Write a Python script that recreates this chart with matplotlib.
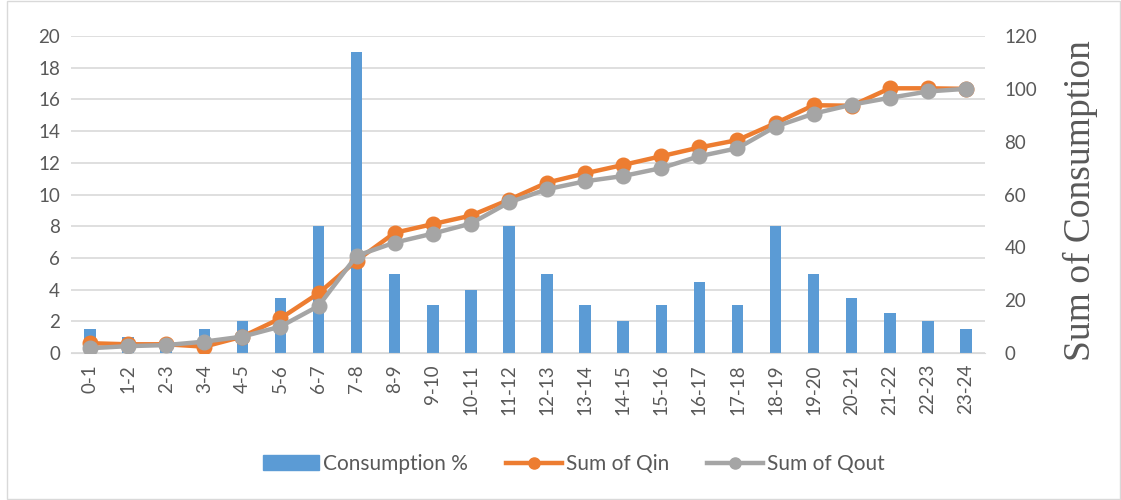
import matplotlib
matplotlib.use('Agg')
import matplotlib.pyplot as plt
from matplotlib.patches import Rectangle
from matplotlib.lines import Line2D
import numpy as np

# Hour ranges on the x axis
hours = ['0-1', '1-2', '2-3', '3-4', '4-5', '5-6', '6-7', '7-8', '8-9', '9-10',
         '10-11', '11-12', '12-13', '13-14', '14-15', '15-16', '16-17', '17-18',
         '18-19', '19-20', '20-21', '21-22', '22-23', '23-24']

# Hourly consumption in percent (left axis)
consumption = [1.5, 1.0, 0.5, 1.5, 2.0, 3.5, 8.0, 19.0, 5.0, 3.0, 4.0, 8.0,
               5.0, 3.0, 2.0, 3.0, 4.5, 3.0, 8.0, 5.0, 3.5, 2.5, 2.0, 1.5]

# Cumulative sums (right axis)
sum_qin = [3.7, 3.3, 3.3, 2.4, 6.2, 13.1, 22.6, 35.0, 45.5, 48.8, 52.0, 58.0,
           64.5, 68.0, 71.2, 74.5, 77.8, 80.6, 87.0, 93.8, 93.6, 100.2, 100.2, 100.0]
sum_qout = [1.8, 2.6, 3.0, 4.3, 6.2, 10.0, 17.8, 36.8, 41.8, 45.2, 49.0, 57.0,
            62.0, 65.0, 67.0, 70.0, 74.5, 77.5, 85.7, 90.6, 94.0, 96.6, 99.0, 100.0]

blue = '#5B9BD5'
orange = '#ED7D31'
grey = '#A5A5A5'
txt = '#595959'

plt.rcParams['font.family'] = ['Lato', 'DejaVu Sans']

fig = plt.figure(figsize=(11.21, 5.0), dpi=100)
ax = fig.add_axes([71 / 1121, 147 / 500, 914 / 1121, 317 / 500])
x = np.arange(len(hours))

# Bars for hourly consumption
ax.bar(x, consumption, width=0.3, color=blue, zorder=2)
ax.set_ylim(0, 20)
ax.set_yticks(np.arange(0, 21, 2))
ax.set_xlim(-0.5, len(hours) - 0.5)
ax.set_xticks(x)
ax.set_xticklabels(hours, rotation=90)
ax.yaxis.grid(True, color='#D9D9D9', linewidth=1.2, zorder=0)
ax.set_axisbelow(True)
for s in ['top', 'right', 'left']:
    ax.spines[s].set_visible(False)
ax.spines['bottom'].set_color('#D9D9D9')
ax.tick_params(axis='both', length=0, colors=txt, labelsize=13.5, pad=8)

# Second axis for the cumulative lines
ax2 = ax.twinx()
ax2.plot(x, sum_qin, color=orange, linewidth=3.2, marker='o', markersize=10.5, zorder=3)
ax2.plot(x, sum_qout, color=grey, linewidth=3.2, marker='o', markersize=10.5, zorder=4)
ax2.set_ylim(0, 120)
ax2.set_yticks(np.arange(0, 121, 20))
for s in ax2.spines.values():
    s.set_visible(False)
ax2.tick_params(axis='y', length=0, colors=txt, labelsize=13.5, pad=14)
ax2.set_ylabel('Sum of Consumption', family='Liberation Serif', fontsize=27,
               color=txt)
ax2.yaxis.set_label_coords(1.085, 0.48)

# Legend below the chart
handles = [Rectangle((0, 0), 1, 1, color=blue),
           Line2D([], [], color=orange, linewidth=3.2, marker='o', markersize=8),
           Line2D([], [], color=grey, linewidth=3.2, marker='o', markersize=8)]
fig.legend(handles, ['Consumption %', 'Sum of Qin', 'Sum of Qout'],
           loc='center', bbox_to_anchor=(574 / 1121, 1 - 464 / 500), ncol=3,
           frameon=False, fontsize=15, labelcolor=txt, handlelength=2.7,
           handletextpad=0.2, columnspacing=1.8)

# Light border around the whole chart
fig.patches.append(Rectangle((7 / 1121, 0.002), 1 - 8 / 1121, 0.996,
                             transform=fig.transFigure, fill=False,
                             edgecolor='#D9D9D9', linewidth=1))

fig.savefig('out.png', dpi=100)
